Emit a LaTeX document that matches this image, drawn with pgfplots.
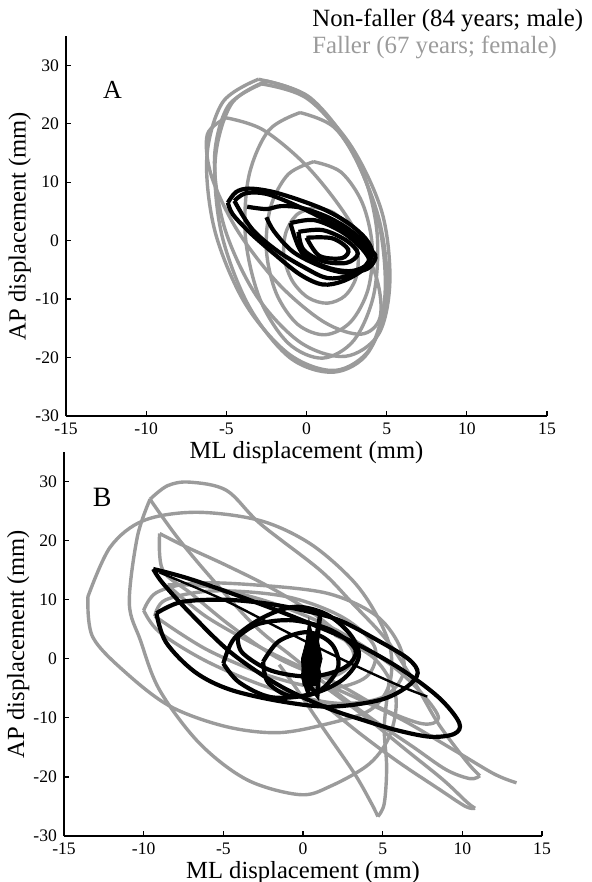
\documentclass[border=0pt]{standalone}
\usepackage{fontspec}
\setmainfont{Liberation Serif}
\usepackage{pgfplots}
\pgfplotsset{compat=1.18}
\definecolor{fgray}{RGB}{155,155,155}

\pgfplotsset{
  sway/.style={
    scale only axis, anchor=south west,
    xmin=-15, xmax=15, ymin=-30, ymax=35,
    xtick={-15,-10,...,15}, ytick={-30,-20,...,30},
    axis x line*=bottom, axis y line*=left,
    tick align=inside, major tick length=2.5pt,
    axis line style={line width=0.6pt}, tick style={line width=0.6pt,black},
    ticklabel style={font=\fontsize{8.8}{10}\selectfont},
    /pgf/number format/assume math mode=true,
    xlabel={ML displacement (mm)}, ylabel={AP displacement (mm)},
    label style={font=\fontsize{12.3}{14}\selectfont},
    xlabel style={at={(axis description cs:0.5,0)}, anchor=base, yshift=-21pt},
    ylabel style={at={(axis description cs:-0.096,0.5)}, anchor=center},
  },
  gtr/.style={color=fgray, line width=1.7pt, smooth, tension=0.55, no markers},
  ktr/.style={color=black, line width=2.1pt, smooth, tension=0.55, no markers},
}

\begin{document}
\begin{tikzpicture}
\useasboundingbox (0,0) rectangle (296pt,-441pt);

% ---------------- panel A ----------------
\begin{axis}[sway, at={(33pt,-208pt)}, width=240.5pt, height=190pt]
% faller (gray)
\addplot[gtr] coordinates {(-3.0,27.6) (-0.13,24.86) (2.62,16.19) (4.5,3.9) (5.02,-8.71) (4.03,-18.26) (1.8,-22.2) (-1.07,-19.46) (-3.82,-10.79) (-5.7,1.5) (-6.22,14.11) (-5.23,23.66) (-3.0,27.6)};
\addplot[gtr] coordinates {(-2.5,27.3) (0.23,24.44) (2.79,15.62) (4.5,3.2) (4.89,-9.48) (3.87,-19.04) (1.7,-22.5) (-1.03,-20.04) (-3.59,-11.22) (-5.3,1.2) (-5.69,13.88) (-4.67,23.44) (-2.5,27.3)};
\addplot[gtr] coordinates {(-2.8,26.8) (0.0,24.38) (2.74,16.36) (4.7,4.9) (5.2,-6.94) (4.5,-15.98) (2.4,-19.8) (-0.4,-17.38) (-3.14,-9.36) (-5.1,2.1) (-5.74,13.94) (-4.9,22.98) (-2.8,26.8)};
\addplot[gtr] coordinates {(-0.4,21.9) (1.74,19.34) (3.5,11.83) (4.4,1.4) (4.2,-9.17) (2.96,-17.04) (1.0,-20.1) (-1.14,-17.54) (-2.9,-10.03) (-3.8,0.4) (-3.6,10.97) (-2.36,18.84) (-0.4,21.9)};
\addplot[gtr] coordinates {(0.45,13.5) (2.15,11.72) (3.48,6.45) (4.1,-0.9) (3.84,-8.35) (2.75,-13.92) (1.15,-16.1) (-0.55,-14.32) (-1.88,-9.05) (-2.5,-1.7) (-2.24,5.75) (-1.15,11.32) (0.45,13.5)};
\addplot[gtr] coordinates {(-5.0,21.0) (-2.69,18.92) (0.13,12.44) (2.7,3.3) (4.33,-6.06) (4.59,-13.12) (3.4,-16.0) (1.09,-13.92) (-1.73,-7.44) (-4.3,1.7) (-5.93,11.06) (-6.19,18.12) (-5.0,21.0)};
\addplot[gtr] coordinates {(0.5,5.7) (1.7,4.75) (2.69,1.86) (3.2,-2.2) (3.09,-6.34) (2.4,-9.45) (1.3,-10.7) (0.1,-9.75) (-0.89,-6.86) (-1.4,-2.8) (-1.29,1.34) (-0.6,4.45) (0.5,5.7)};
% non-faller (black)
\addplot[ktr] coordinates {(-4.9,6.5) (-4.4,8.3) (-3.6,8.9) (-2.2,8.4) (-0.5,7.0) (1.2,5.2) (2.6,3.0) (3.7,0.3) (4.1,-2.2) (3.6,-4.8) (2.3,-6.9) (1.0,-7.5) (-0.4,-5.8) (-2.0,-2.3) (-3.5,1.3) (-4.6,4.5) (-4.9,6.5)};
\addplot[ktr] coordinates {(-4.5,6.8) (-3.8,8.1) (-2.5,8.0) (-0.8,6.2) (1.0,3.8) (2.8,1.0) (3.9,-2.0) (3.7,-4.2) (2.6,-6.0) (1.3,-6.4) (0.0,-4.8) (-1.8,-1.8) (-3.4,2.0) (-4.5,6.8)};
\addplot[ktr] coordinates {(-3.7,5.8) (-2.5,5.4) (-1.6,5.9) (-0.3,5.6) (1.5,3.8) (3.0,1.2) (4.1,-1.8) (4.3,-3.0) (3.8,-4.8) (2.5,-5.5) (1.0,-4.5) (-0.8,-2.0) (-2.0,1.5) (-2.5,4.0)};
\addplot[ktr] coordinates {(-1.0,3.0) (0.5,3.5) (2.2,1.5) (3.5,-1.5) (3.9,-3.8) (2.8,-5.2) (1.2,-4.5) (-0.3,-2.0) (-1.0,3.0)};
\addplot[ktr] coordinates {(-0.5,1.5) (1.0,1.8) (2.5,0.0) (3.2,-2.2) (2.5,-3.8) (1.0,-3.5) (-0.2,-1.5) (-0.5,1.5)};
\addplot[ktr] coordinates {(0.0,0.5) (1.6,0.4) (2.6,-1.5) (2.2,-3.0) (0.8,-2.6) (0.0,0.5)};
\node[font=\fontsize{13}{15}\selectfont] at (axis cs:-12.1,25.8) {A};
\end{axis}

% ---------------- panel B ----------------
\begin{axis}[sway, at={(32pt,-418pt)}, width=239pt, height=192pt]
% faller (gray)
\addplot[gtr] coordinates {(-13.5,10.5) (-12.1,18.9) (-10.0,23.4) (-6.7,24.8) (-2.7,23.4) (0.44,19.5) (3.1,13.3) (4.6,7.5) (5.5,1.5) (5.4,-4.5) (4.2,-8.7) (1.7,-10.9) (-1.5,-12.5) (-4.8,-11.5) (-8.3,-8.1) (-11.1,-2.4) (-13.2,3.7) (-13.5,10.5)};
\addplot[gtr] coordinates {(-9.6,27.0) (-8.5,29.3) (-7.1,29.9) (-4.8,28.5) (-2.7,22.9) (1.07,15.0) (3.1,9.4) (5.3,3.0) (7.0,-4.0) (8.5,-11.0) (10.3,-17.5) (11.1,-19.8)};
\addplot[gtr] coordinates {(11.1,-19.8) (10.5,-20.3) (9.0,-18.8) (6.9,-14.9) (4.5,-10.5) (2.0,-5.5) (-0.5,0.0) (-3.0,5.5) (-5.8,13.8) (-7.9,20.6) (-9.6,27.0)};
\addplot[gtr] coordinates {(-9.6,27.0) (-10.4,20.6) (-10.9,9.4) (-10.2,3.1) (-9.0,-5.3) (-6.5,-14.3) (-3.5,-20.5) (-0.2,-23.0) (1.7,-21.6) (4.2,-17.7) (5.5,-12.6) (5.8,-6.0) (4.5,0.0) (2.0,4.0)};
\addplot[gtr] coordinates {(-1.5,-1.0) (-0.5,-4.7) (1.2,-11.5) (3.2,-19.3) (4.3,-24.5) (4.7,-26.7)};
\addplot[gtr] coordinates {(4.7,-26.7) (5.1,-24.5) (5.25,-18.3) (5.1,-11.5) (5.4,-4.0)};
\addplot[gtr] coordinates {(1.5,-5.0) (4.0,-10.0) (6.5,-15.5) (8.8,-20.5) (10.3,-24.3) (10.8,-25.3)};
\addplot[gtr] coordinates {(10.8,-25.3) (10.2,-25.0) (8.5,-22.0) (6.0,-17.5) (3.5,-12.5) (1.0,-7.0)};
\addplot[gtr] coordinates {(2.0,-5.0) (6.0,-10.0) (9.5,-15.5) (12.0,-19.5) (13.4,-21.0)};
\addplot[gtr] coordinates {(-9.0,21.2) (-7.3,18.9) (-4.8,15.8) (-2.0,12.0) (1.0,7.0) (3.0,2.0) (3.0,-1.0) (1.5,-3.0) (-1.5,0.0) (-4.5,5.5) (-7.0,11.0) (-8.8,15.0) (-9.0,21.2)};
\addplot[gtr] coordinates {(-8.5,12.5) (-6.0,12.2) (-2.0,9.5) (2.0,5.0) (5.5,-1.0) (7.5,-6.0) (8.5,-10.0) (7.5,-11.0) (5.0,-8.5) (2.0,-4.0) (-2.0,1.0) (-6.0,7.0) (-8.5,12.5)};
\addplot[gtr] coordinates {(-10.0,8.2) (-9.2,11.2) (-6.9,12.8) (-3.0,12.5) (1.5,11.1) (4.5,7.5) (6.0,2.5) (6.3,-2.5) (5.0,-6.5) (2.0,-7.5) (-2.0,-5.0) (-6.0,-0.5) (-9.0,4.5) (-10.0,8.2)};
\addplot[gtr] coordinates {(-9.3,7.2) (-8.6,10.0) (-5.5,11.5) (-1.0,10.5) (2.5,7.0) (4.5,2.0) (4.0,-3.0) (1.5,-5.0) (-2.0,-3.0) (-6.0,1.5) (-9.3,7.2)};
% non-faller (black)
\addplot[ktr] coordinates {(-9.4,15.2) (-7.2,13.6) (-4.0,10.6) (-0.5,7.0) (3.0,3.0) (6.0,-1.5) (8.5,-6.5) (9.8,-10.8) (9.5,-12.7) (8.0,-13.2) (5.9,-12.1) (3.8,-10.4) (1.5,-8.3) (-1.5,-4.5) (-4.5,1.0) (-7.0,7.5) (-8.8,12.8) (-9.4,15.2)};
\addplot[ktr, line width=1.2pt] coordinates {(-9.0,14.6) (-5.0,10.0) (-1.0,4.5) (3.0,-0.8) (6.0,-4.5) (7.8,-6.4)};
\addplot[ktr] coordinates {(-9.2,7.7) (-7.65,9.6) (-5.0,10.0) (-2.4,9.4) (0.0,8.2) (2.3,6.5) (4.7,3.1) (6.6,0.0) (7.2,-2.4) (6.5,-4.8) (4.8,-7.0) (1.7,-8.1) (-1.4,-7.2) (-4.6,-5.2) (-6.8,-2.2) (-8.6,2.8) (-9.2,7.7)};
\addplot[ktr] coordinates {(-5.0,-0.8) (-4.3,3.5) (-2.5,7.0) (-0.5,8.8) (1.5,7.5) (3.0,4.0) (3.5,0.3) (2.5,-3.5) (0.5,-6.0) (-2.0,-6.5) (-4.0,-4.0) (-5.0,-0.8)};
\addplot[ktr] coordinates {(-4.1,3.7) (-2.8,5.9) (-0.6,6.5) (1.8,4.8) (3.3,1.5) (2.6,-1.5) (0.5,-3.0) (-2.0,-2.0) (-3.8,1.0) (-4.1,3.7)};
\addplot[ktr] coordinates {(-2.5,-0.5) (-1.5,3.0) (0.3,4.5) (1.8,2.5) (2.2,-1.5) (1.0,-5.5) (-0.8,-6.3) (-2.2,-4.0) (-2.5,-0.5)};
\addplot[black, line width=2.2pt, no markers] coordinates {(0.3,-6.0) (0.5,-2.0) (0.8,3.0) (1.1,7.8) (0.9,3.5) (0.6,-1.0) (0.4,-4.5) (0.9,-6.2) (1.0,-2.5) (0.7,1.5) (0.4,5.0) (0.2,1.0) (0.0,-3.0) (0.3,-5.5)};
\addplot[black, fill=black, no markers] coordinates {(0.0,-4.5) (0.8,-4.5) (1.2,0.0) (0.9,4.0) (0.3,4.0) (-0.1,0.0) (0.0,-4.5)};
\node[font=\fontsize{14}{16}\selectfont] at (axis cs:-12.6,27.3) {B};
\end{axis}

% legend text
\node[anchor=base west, inner sep=0pt, font=\fontsize{12.4}{14}\selectfont] at (156pt,-13.4pt) {Non-faller (84 years; male)};
\node[anchor=base west, inner sep=0pt, font=\fontsize{12.4}{14}\selectfont, text=fgray] at (156pt,-26.6pt) {Faller (67 years; female)};
\end{tikzpicture}
\end{document}
